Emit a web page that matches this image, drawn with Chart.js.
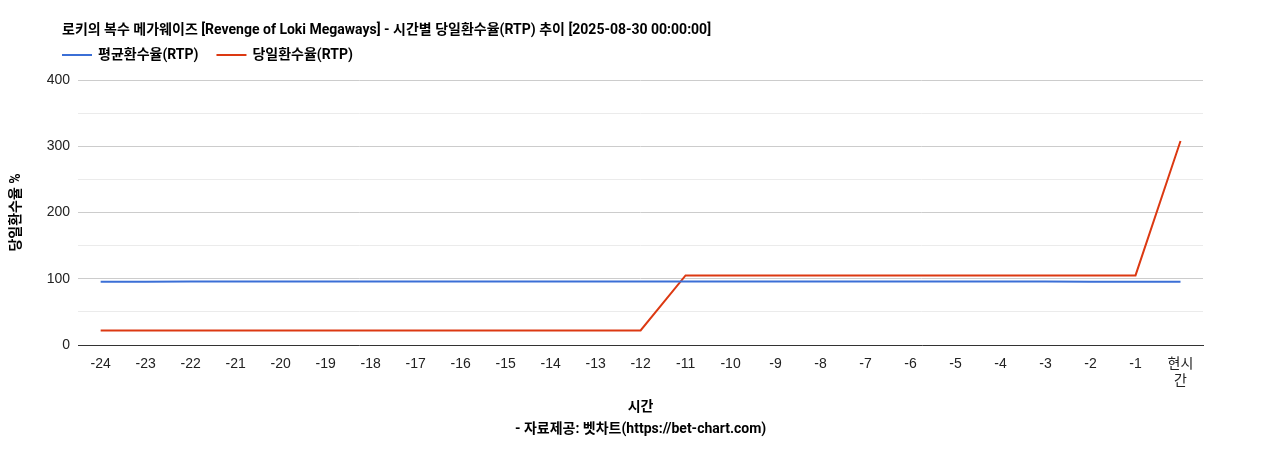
<!DOCTYPE html>
<html><head><meta charset="utf-8">
<script src="https://cdn.jsdelivr.net/npm/chart.js@4/dist/chart.umd.min.js"></script>
<style>html,body{margin:0;padding:0;background:#fff}#w{width:1268px;height:450px}</style>
</head><body><div id="w"><canvas id="c"></canvas></div>
<script>
const labels=['-24','-23','-22','-21','-20','-19','-18','-17','-16','-15','-14','-13','-12','-11','-10','-9','-8','-7','-6','-5','-4','-3','-2','-1',['현시','간']];
const avgRtp=[95.5,95.5,96,96,96,96,96,96,96,96,96,96,96,96,96,96,96,96,96,96,96,96,95.5,95.5,95.5];
const dailyRtp=[22,22,22,22,22,22,22,22,22,22,22,22,22,105,105,105,105,105,105,105,105,105,105,105,308];
const titleText='로키의 복수 메가웨이즈 [Revenge of Loki Megaways] - 시간별 당일환수율(RTP) 추이 [2025-08-30 00:00:00]';
const F="'Roboto','Noto Sans CJK KR',sans-serif";
const TF="'Liberation Sans','Noto Sans CJK KR',sans-serif";
Chart.defaults.font.family=F;Chart.defaults.color='#222';
const header={id:'header',afterDraw(ch){const x=ch.ctx;x.save();x.fillStyle='#000';x.textBaseline='middle';
x.font="bold 14px "+F;x.fillText(titleText,62,30);
const ds=ch.data.datasets;let px=62;x.font="bold 14px "+F;
ds.forEach(d=>{x.strokeStyle=d.borderColor;x.lineWidth=2;x.beginPath();x.moveTo(px,55);x.lineTo(px+30,55);x.stroke();
x.fillStyle='#000';x.fillText(d.label,px+36,55);px+=36+x.measureText(d.label).width+18;});x.restore();}};
new Chart(document.getElementById('c'),{type:'line',
data:{labels,datasets:[
{label:'평균환수율(RTP)',data:avgRtp,borderColor:'#3b6fd6',backgroundColor:'#3b6fd6',borderWidth:2,pointRadius:0,tension:0},
{label:'당일환수율(RTP)',data:dailyRtp,borderColor:'#dc3912',backgroundColor:'#dc3912',borderWidth:2,pointRadius:0,tension:0}]},
plugins:[header],
options:{responsive:true,maintainAspectRatio:false,animation:false,
layout:{padding:{left:4,right:65,top:80,bottom:6}},
plugins:{title:{display:false},legend:{display:false},tooltip:{enabled:false}},
scales:{
x:{offset:true,grid:{display:false},border:{color:'#333'},ticks:{font:{size:14,family:TF},color:'#222',maxRotation:0,autoSkip:false},
title:{display:true,text:['시간','- 자료제공: 벳차트(https://bet-chart.com)'],font:{size:14,weight:'bold',lineHeight:1.55},color:'#000',padding:{top:4}}},
y:{min:0,max:400,border:{display:false},ticks:{stepSize:50,padding:8,font:{size:14,family:TF},color:'#222',callback:v=>v%100===0?v:''},
grid:{color:c=>c.tick.value%100===0?'#ccc':'#ebebeb',drawTicks:false},
title:{display:true,text:'당일환수율 %',font:{size:14,weight:'bold'},color:'#000',padding:{bottom:14}}}}}});
</script></body></html>
